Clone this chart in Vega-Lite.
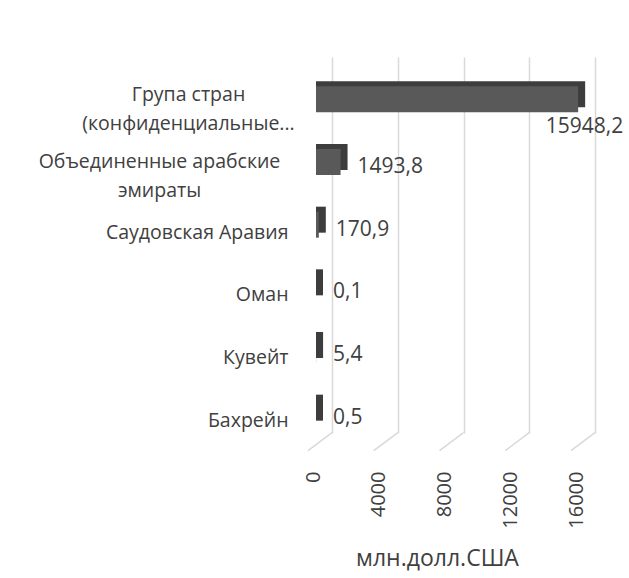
{
  "$schema": "https://vega.github.io/schema/vega-lite/v6.json",
  "width": 263,
  "height": 376,
  "autosize": {"type": "none"},
  "padding": {"left": 332, "top": 57, "right": 34, "bottom": 145},
  "background": "white",
  "config": {
    "view": {"stroke": null},
    "font": "Open Sans",
    "locale": {"number": {"decimal": ",", "thousands": " ", "grouping": [3], "currency": ["", ""]}}
  },
  "datasets": {
    "trade": [
      {"country": "Група стран (конфиденциальные...", "value": 15948.2},
      {"country": "Объединенные арабские эмираты", "value": 1493.8},
      {"country": "Саудовская Аравия", "value": 170.9},
      {"country": "Оман", "value": 0.1},
      {"country": "Кувейт", "value": 5.4},
      {"country": "Бахрейн", "value": 0.5}
    ],
    "grid": [
      {"tick": 0}, {"tick": 4000}, {"tick": 8000}, {"tick": 12000}, {"tick": 16000}
    ]
  },
  "data": {"name": "trade"},
  "encoding": {
    "y": {
      "field": "country",
      "type": "nominal",
      "sort": null,
      "scale": {"domain": ["Група стран (конфиденциальные...", "Объединенные арабские эмираты", "Саудовская Аравия", "Оман", "Кувейт", "Бахрейн"]},
      "axis": {
        "title": null,
        "grid": false,
        "ticks": false,
        "domain": false,
        "labelFontSize": 19.5,
        "labelColor": "#404040",
        "labelAlign": {"condition": {"test": "length(datum.value) > 20", "value": "center"}, "value": "right"},
        "labelPadding": {"condition": [{"test": "datum.value == 'Група стран (конфиденциальные...'", "value": 144}, {"test": "datum.value == 'Объединенные арабские эмираты'", "value": 173}], "value": 44},
        "labelOffset": {"condition": [{"test": "datum.value == 'Група стран (конфиденциальные...'", "value": 7}, {"test": "datum.value == 'Объединенные арабские эмираты'", "value": 11}], "value": 19},
        "labelLineHeight": 29,
        "labelLimit": 320,
        "labelExpr": "datum.value == 'Група стран (конфиденциальные...' ? ['Група стран', '(конфиденциальные...'] : datum.value == 'Объединенные арабские эмираты' ? ['Объединенные арабские', 'эмираты'] : datum.value"
      }
    }
  },
  "layer": [
    {
      "data": {"name": "grid"},
      "mark": {"type": "rule", "color": "#d9d9d9", "strokeWidth": 1.5, "x2Offset": -24, "yOffset": 31, "y2Offset": 49},
      "encoding": {
        "x": {"field": "tick", "type": "quantitative"},
        "x2": {"field": "tick"},
        "y": {"datum": "Бахрейн"},
        "y2": {"datum": "Бахрейн"}
      }
    },
    {
      "mark": {"type": "bar", "color": "#3d3d3d", "size": 26, "xOffset": -9, "x2Offset": -16, "yOffset": 6},
      "encoding": {
        "x": {
          "field": "value",
          "type": "quantitative",
          "stack": null,
          "scale": {"domain": [0, 16000]},
          "axis": {
            "values": [0, 4000, 8000, 12000, 16000],
            "grid": true,
            "gridColor": "#d9d9d9",
            "gridWidth": 1.5,
            "domain": false,
            "ticks": false,
            "labelAngle": -90,
            "labelOffset": -19,
            "labelPadding": 38,
            "labelFlush": false,
            "labelOverlap": false,
            "labelFontSize": 20,
            "labelColor": "#404040",
            "format": "d",
            "title": "млн.долл.США",
            "titleFontSize": 23,
            "titleFontWeight": "normal",
            "titleColor": "#404040",
            "titleX": 105,
            "titlePadding": 19
          }
        },
        "x2": {"datum": 0}
      }
    },
    {
      "mark": {"type": "bar", "color": "#595959", "size": 26, "xOffset": -16, "x2Offset": -16, "yOffset": 11},
      "encoding": {"x": {"field": "value", "type": "quantitative", "stack": null}, "x2": {"datum": 0}}
    },
    {
      "transform": [{"filter": "datum.value < 10000"}],
      "mark": {"type": "text", "align": "left", "baseline": "middle", "dx": 1, "dy": 16, "fontSize": 21, "color": "#404040"},
      "encoding": {
        "x": {"field": "value", "type": "quantitative"},
        "text": {"field": "value", "type": "quantitative", "format": ".1f"}
      }
    },
    {
      "transform": [{"filter": "datum.value >= 10000"}],
      "mark": {"type": "text", "align": "right", "baseline": "middle", "dx": 29, "dy": 39, "fontSize": 21, "color": "#404040"},
      "encoding": {
        "x": {"field": "value", "type": "quantitative"},
        "text": {"field": "value", "type": "quantitative", "format": ".1f"}
      }
    }
  ]
}
